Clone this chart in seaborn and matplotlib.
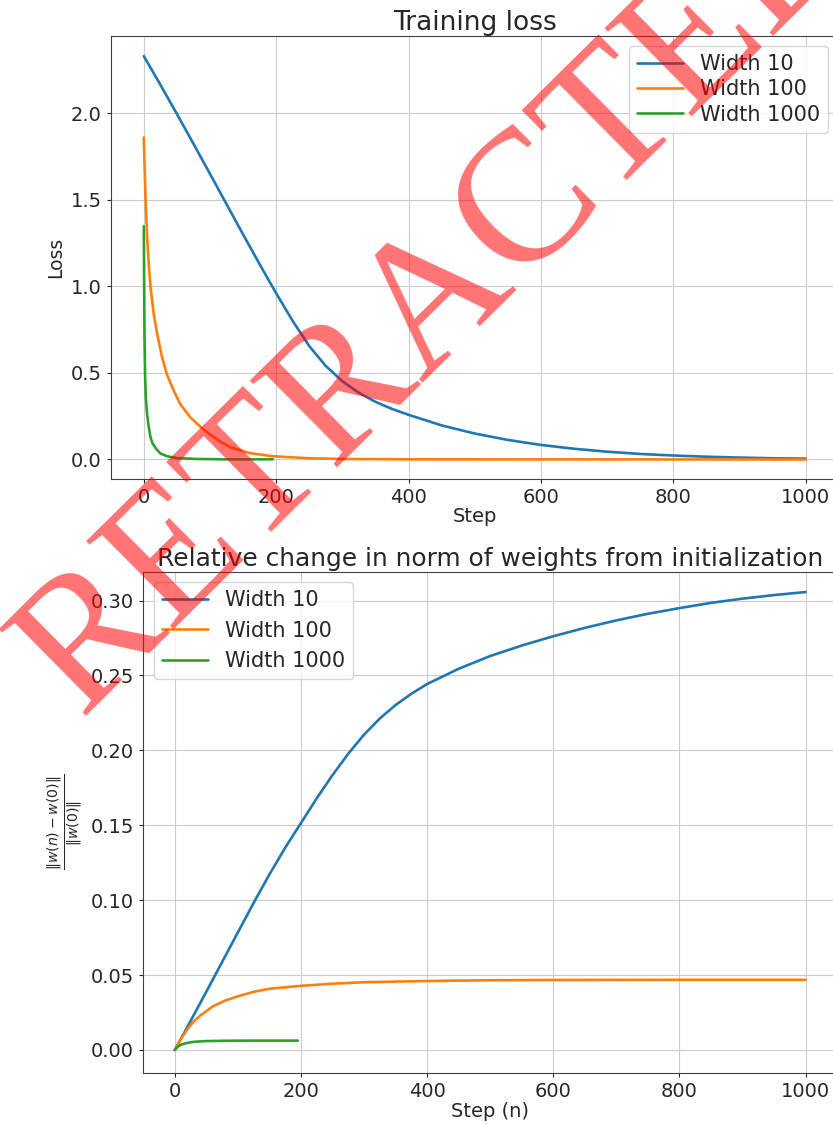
import numpy as np
import pandas as pd
import matplotlib
matplotlib.use("Agg")
import matplotlib.pyplot as plt
import seaborn as sns

# ---- training loss (top panel) ----
loss10_step = [0, 25, 50, 75, 100, 125, 150, 175, 200, 225, 250, 275, 300, 325, 350, 375,
               400, 450, 500, 550, 600, 650, 700, 750, 800, 850, 900, 950, 1000]
loss10 = [2.33, 2.165, 1.996, 1.824, 1.65, 1.475, 1.30, 1.128, 0.96, 0.80, 0.655, 0.54,
          0.452, 0.385, 0.333, 0.292, 0.258, 0.197, 0.150, 0.113, 0.084, 0.062, 0.045,
          0.032, 0.023, 0.016, 0.011, 0.007, 0.005]

loss100_step = [0, 1, 2, 3, 5, 7, 10, 15, 20, 27, 35, 45, 55, 70, 88, 100, 115, 131, 160,
                194, 250, 300, 400, 1000]
loss100 = [1.86, 1.72, 1.59, 1.47, 1.29, 1.16, 1.0, 0.84, 0.73, 0.60, 0.49, 0.40, 0.32,
           0.245, 0.18, 0.145, 0.105, 0.07, 0.037, 0.019, 0.007, 0.003, 0.001, 0.0]

loss1000_step = [0, 1, 2, 3, 5, 7, 10, 13, 18, 25, 35, 50, 80, 120, 195]
loss1000 = [1.347, 0.72, 0.48, 0.36, 0.26, 0.20, 0.13, 0.095, 0.065, 0.035, 0.019, 0.008,
            0.003, 0.001, 0.001]

# ---- relative weight change (bottom panel) ----
rel10_step = [0, 25, 50, 75, 100, 125, 150, 175, 200, 225, 250, 275, 300, 325, 350, 375,
              400, 450, 500, 550, 600, 650, 700, 750, 800, 850, 900, 950, 1000]
rel10 = [0.0, 0.0193, 0.0389, 0.0587, 0.0785, 0.0982, 0.1172, 0.1350, 0.1515, 0.168,
         0.1835, 0.1978, 0.2105, 0.2213, 0.2303, 0.2378, 0.2443, 0.2545, 0.2630, 0.2700,
         0.2762, 0.2818, 0.2868, 0.2912, 0.2950, 0.2985, 0.3013, 0.3037, 0.3057]

rel100_step = [0, 10, 20, 30, 40, 60, 80, 100, 125, 150, 200, 250, 300, 400, 500, 600,
               800, 1000]
rel100 = [0.0, 0.0075, 0.0138, 0.019, 0.0228, 0.029, 0.033, 0.0358, 0.0388, 0.0408,
          0.0428, 0.0442, 0.0452, 0.046, 0.0465, 0.0467, 0.0468, 0.0468]

rel1000_step = [0, 5, 10, 20, 30, 50, 80, 120, 195]
rel1000 = [0.0, 0.0022, 0.0035, 0.0047, 0.0054, 0.0059, 0.0061, 0.0062, 0.0062]

labels = ["Width 10", "Width 100", "Width 1000"]
colors = ["#1f77b4", "#ff7f0e", "#2ca02c"]

sns.set_style("whitegrid", {"axes.edgecolor": "0.25", "grid.color": "0.8",
                            "xtick.bottom": True, "ytick.left": True,
                            "xtick.color": "0.15", "ytick.color": "0.15"})
plt.rcParams["font.family"] = ["DejaVu Sans"]
plt.rcParams["xtick.labelsize"] = 14
plt.rcParams["ytick.labelsize"] = 14
plt.rcParams["xtick.major.size"] = 3
plt.rcParams["ytick.major.size"] = 3

fig = plt.figure(figsize=(8.33, 11.24), dpi=100)
ax1 = fig.add_axes([0.1329, 0.5738, 0.874, 0.3946])
ax2 = fig.add_axes([0.172, 0.0454, 0.833, 0.4461])

top = [(loss10_step, loss10), (loss100_step, loss100), (loss1000_step, loss1000)]
for (xs, ys), lab, c in zip(top, labels, colors):
    sns.lineplot(x=xs, y=ys, ax=ax1, label=lab, color=c, linewidth=1.9)
ax1.set_xlim(-50, 1050)
ax1.set_ylim(-0.113, 2.449)
ax1.set_xticks(range(0, 1001, 200))
ax1.set_yticks([0, 0.5, 1.0, 1.5, 2.0])
ax1.set_title("Training loss", fontsize=19, pad=4)
ax1.set_xlabel("Step", fontsize=14, labelpad=0)
ax1.set_ylabel("Loss", fontsize=13.5)
ax1.legend(loc="upper right", fontsize=15, handlelength=2.2, labelspacing=0.25)

bot = [(rel10_step, rel10), (rel100_step, rel100), (rel1000_step, rel1000)]
for (xs, ys), lab, c in zip(bot, labels, colors):
    sns.lineplot(x=xs, y=ys, ax=ax2, label=lab, color=c, linewidth=1.9)
ax2.set_xlim(-50, 1050)
ax2.set_ylim(-0.0154, 0.3194)
ax2.set_xticks(range(0, 1001, 200))
ax2.set_yticks([0, 0.05, 0.10, 0.15, 0.20, 0.25, 0.30])
ax2.set_title("Relative change in norm of weights from initialization", fontsize=17.9, pad=4)
ax2.set_xlabel("Step (n)", fontsize=14, labelpad=1)
ax2.set_ylabel(r"$\frac{\Vert w(n)-w(0)\Vert}{\Vert w(0)\Vert}$", fontsize=14.5)
ax2.legend(loc="upper left", fontsize=15, handlelength=2.2)

# watermark
fig.text(441 / 833, 1 - 296 / 1124, "RETRACTED", rotation=44.7, fontsize=135,
         family="Liberation Serif", color="red", alpha=0.55, ha="center", va="center",
         rotation_mode="anchor", zorder=20)

fig.savefig("out.png", dpi=100)
